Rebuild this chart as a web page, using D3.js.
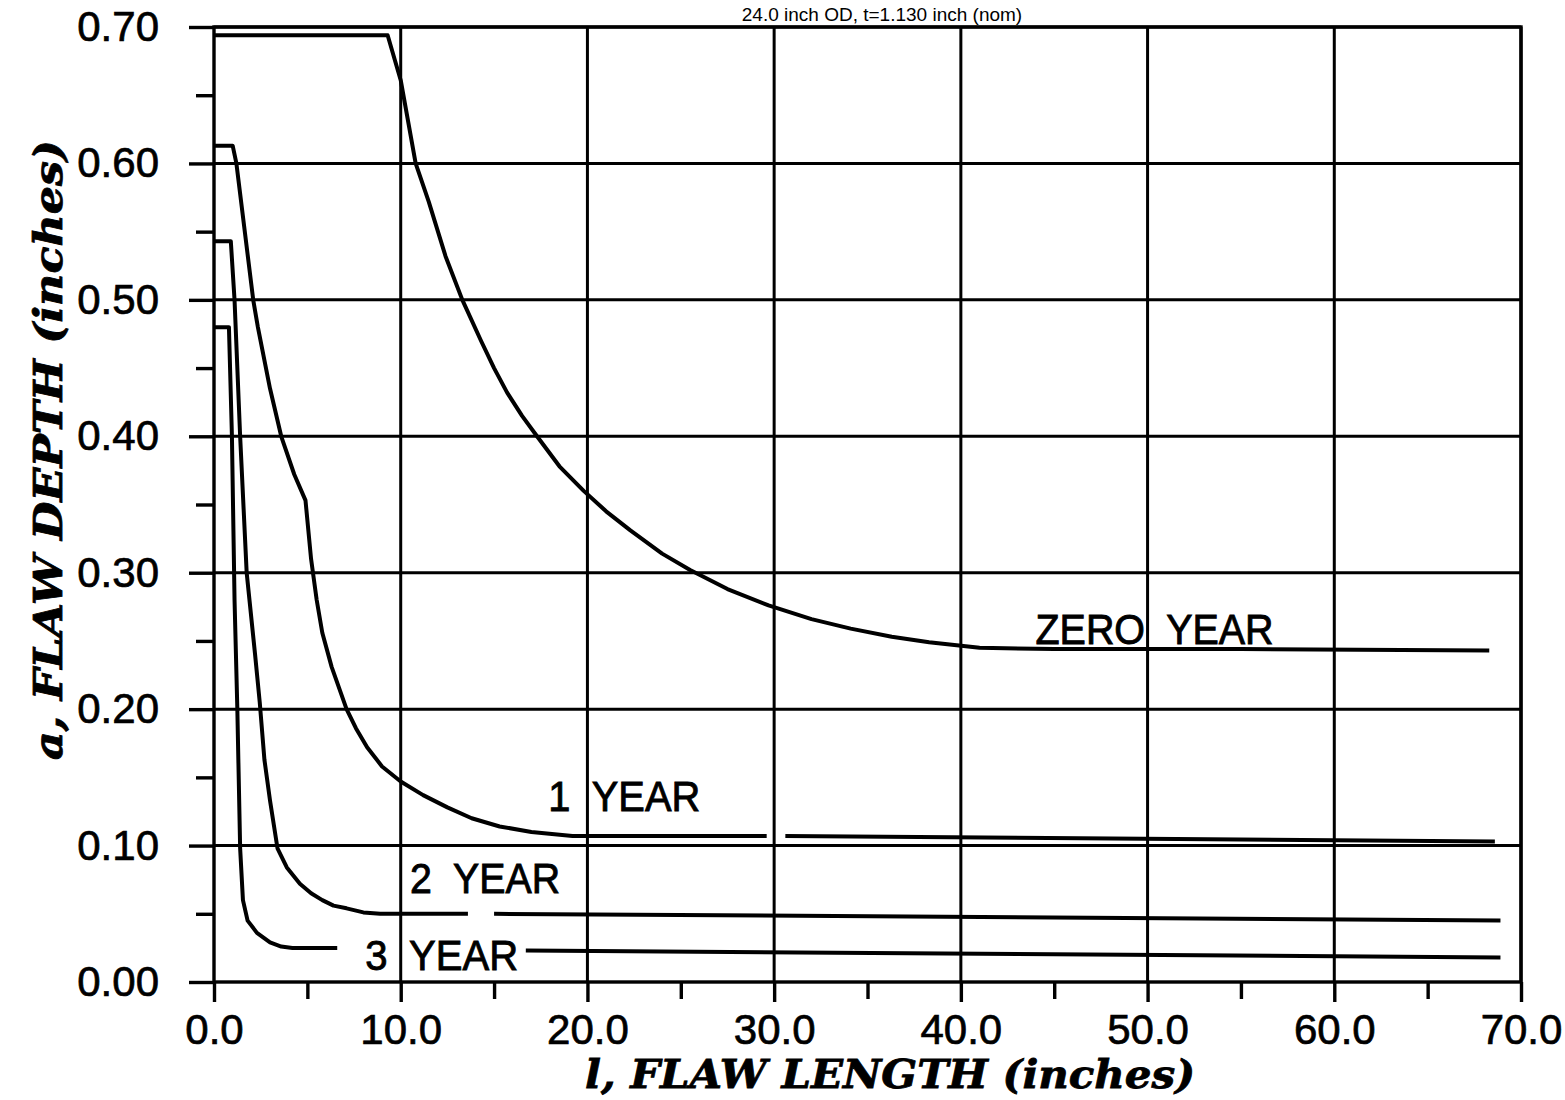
<!DOCTYPE html>
<html>
<head>
<meta charset="utf-8">
<script src="https://cdn.jsdelivr.net/npm/d3@7"></script>
<style>
  html, body { margin: 0; padding: 0; background: #fff; }
  svg { display: block; }
  .tick text { font-family: "Liberation Sans", Arial, sans-serif; font-size: 42px; fill: #000;
    stroke: #000; stroke-width: 0.7px; }
</style>
</head>
<body>
<svg id="chart" width="1565" height="1100"></svg>
<script>
// ---- data ----
const titleText = "24.0 inch OD, t=1.130 inch (nom)";
const xLabelText = "l, FLAW LENGTH (inches)";
const yLabelText = "a, FLAW DEPTH (inches)";

const xMajorTicks = [0, 10, 20, 30, 40, 50, 60, 70];
const xMinorTicks = [5, 15, 25, 35, 45, 55, 65];
const yMajorTicks = [0, 0.1, 0.2, 0.3, 0.4, 0.5, 0.6, 0.7];
const yMinorTicks = [0.05, 0.15, 0.25, 0.35, 0.45, 0.55, 0.65];

// [flaw length, flaw depth]; null = break in the drawn line
const zeroYear = [[0,0.694],[9.3,0.694],[10.0,0.661],[10.8,0.60],[11.5,0.572],[12.4,0.532],
  [13.3,0.50],[14.3,0.47],[15.0,0.45],[15.7,0.432],[16.5,0.415],[17.3,0.40],[18.5,0.378],
  [19.8,0.36],[21.0,0.345],[22.3,0.331],[24.0,0.314],[25.5,0.302],[27.5,0.288],[29.7,0.276],
  [32.0,0.266],[34.1,0.259],[36.3,0.253],[38.3,0.249],[41.0,0.245],[45,0.244],[55,0.244],
  [68.3,0.243]];
const oneYear = [[0,0.613],[1.0,0.613],[1.2,0.60],[2.1,0.50],[2.35,0.48],[3.0,0.435],
  [3.6,0.40],[4.3,0.372],[4.9,0.353],[5.2,0.31],[5.5,0.28],[5.8,0.256],[6.3,0.231],
  [7.1,0.20],[7.6,0.186],[8.2,0.172],[9.0,0.158],[10.0,0.147],[11.2,0.137],[12.5,0.128],
  [13.8,0.12],[15.3,0.114],[17.0,0.110],[19.2,0.107],[29.6,0.107],null,[30.6,0.107],
  [68.6,0.103]];
const twoYear = [[0,0.543],[0.9,0.543],[1.1,0.50],[1.4,0.40],[1.75,0.30],[1.9,0.28],
  [2.2,0.24],[2.45,0.205],[2.7,0.163],[3.0,0.133],[3.4,0.098],[3.9,0.084],[4.6,0.072],
  [5.2,0.065],[5.8,0.06],[6.4,0.056],[7.1,0.054],[8.0,0.051],[8.9,0.05],[13.6,0.05],
  null,[15.0,0.05],[68.9,0.045]];
const threeYear = [[0,0.48],[0.8,0.48],[0.96,0.40],[1.1,0.28],[1.25,0.20],[1.4,0.098],
  [1.55,0.06],[1.8,0.045],[2.3,0.036],[3.0,0.029],[3.6,0.026],[4.2,0.025],[6.6,0.025],
  null,[16.7,0.023],[68.9,0.018]];

const curveLabels = [
  {text: "ZERO  YEAR", l: 44.0, a: 0.248, len: 238},
  {text: "1  YEAR", l: 17.9, a: 0.125, len: 152},
  {text: "2  YEAR", l: 10.5, a: 0.065, len: 150},
  {text: "3  YEAR", l: 8.1, a: 0.009, len: 153}
];

// ---- layout ----
const svg = d3.select("#chart");
const x = d3.scaleLinear().domain([0, 70]).range([214, 1521]);
const y = d3.scaleLinear().domain([0, 0.7]).range([982, 27]);
const ink = "#000";

// grid lines
const grid = svg.append("g").attr("stroke", ink).attr("stroke-width", 3);
grid.selectAll(".gx").data(xMajorTicks.slice(1)).join("line")
  .attr("x1", d => x(d)).attr("x2", d => x(d)).attr("y1", y(0.7)).attr("y2", y(0));
grid.selectAll(".gy").data(yMajorTicks.slice(1)).join("line")
  .attr("x1", x(0)).attr("x2", x(70)).attr("y1", d => y(d)).attr("y2", d => y(d));

// axes
const yAxis = d3.axisLeft(y).tickValues(yMajorTicks).tickSize(25).tickPadding(30)
  .tickFormat(d3.format(".2f"));
const yAxisMinor = d3.axisLeft(y).tickValues(yMinorTicks).tickSize(18).tickFormat("");
const xAxis = d3.axisBottom(x).tickValues(xMajorTicks).tickSize(20).tickPadding(12)
  .tickFormat(d3.format(".1f"));
const xAxisMinor = d3.axisBottom(x).tickValues(xMinorTicks).tickSize(17).tickFormat("");

function styleAxis(g) {
  g.selectAll("line").attr("stroke", ink).attr("stroke-width", 3.4);
}
[[yAxis, `translate(${x(0)},0)`], [yAxisMinor, `translate(${x(0)},0)`],
 [xAxis, `translate(0,${y(0)})`], [xAxisMinor, `translate(0,${y(0)})`]].forEach(([ax, tr]) => {
  svg.append("g").attr("transform", tr).call(ax).call(styleAxis)
    .call(g => g.select(".domain").remove());
});

// frame
svg.append("rect").attr("x", x(0)).attr("y", y(0.7))
  .attr("width", x(70) - x(0)).attr("height", y(0) - y(0.7))
  .attr("fill", "none").attr("stroke", ink).attr("stroke-width", 3.4);

// curves
const line = d3.line().defined(d => d !== null).x(d => x(d[0])).y(d => y(d[1]));
[zeroYear, oneYear, twoYear, threeYear].forEach(s => {
  svg.append("path").datum(s).attr("d", line)
    .attr("fill", "none").attr("stroke", ink).attr("stroke-width", 4)
    .attr("stroke-linejoin", "round").attr("stroke-linecap", "butt");
});

// curve labels
svg.selectAll(".clab").data(curveLabels).join("text")
  .attr("x", d => x(d.l)).attr("y", d => y(d.a))
  .attr("textLength", d => d.len).attr("lengthAdjust", "spacingAndGlyphs")
  .style("white-space", "pre")
  .attr("font-family", "Liberation Sans, Arial, sans-serif").attr("font-size", 43)
  .attr("fill", ink).attr("stroke", ink).attr("stroke-width", 0.9).text(d => d.text);

// title (at top edge, above the frame)
svg.append("text").attr("x", 882).attr("y", 21).attr("text-anchor", "middle")
  .attr("font-family", "Liberation Sans, Arial, sans-serif").attr("font-size", 19)
  .attr("fill", ink).text(titleText);

// axis titles
svg.append("text").attr("x", 890).attr("y", 1088).attr("text-anchor", "middle")
  .attr("textLength", 610).attr("lengthAdjust", "spacingAndGlyphs")
  .attr("font-family", "DejaVu Serif, serif").attr("font-style", "italic")
  .attr("font-weight", "bold").attr("font-size", 40).attr("fill", ink)
  .attr("stroke", ink).attr("stroke-width", 0.8).text(xLabelText);
svg.append("text").attr("transform", "translate(62,450) rotate(-90)").attr("text-anchor", "middle")
  .attr("textLength", 620).attr("lengthAdjust", "spacingAndGlyphs")
  .attr("font-family", "DejaVu Serif, serif").attr("font-style", "italic")
  .attr("font-weight", "bold").attr("font-size", 40).attr("fill", ink)
  .attr("stroke", ink).attr("stroke-width", 0.8).text(yLabelText);
</script>
</body>
</html>
